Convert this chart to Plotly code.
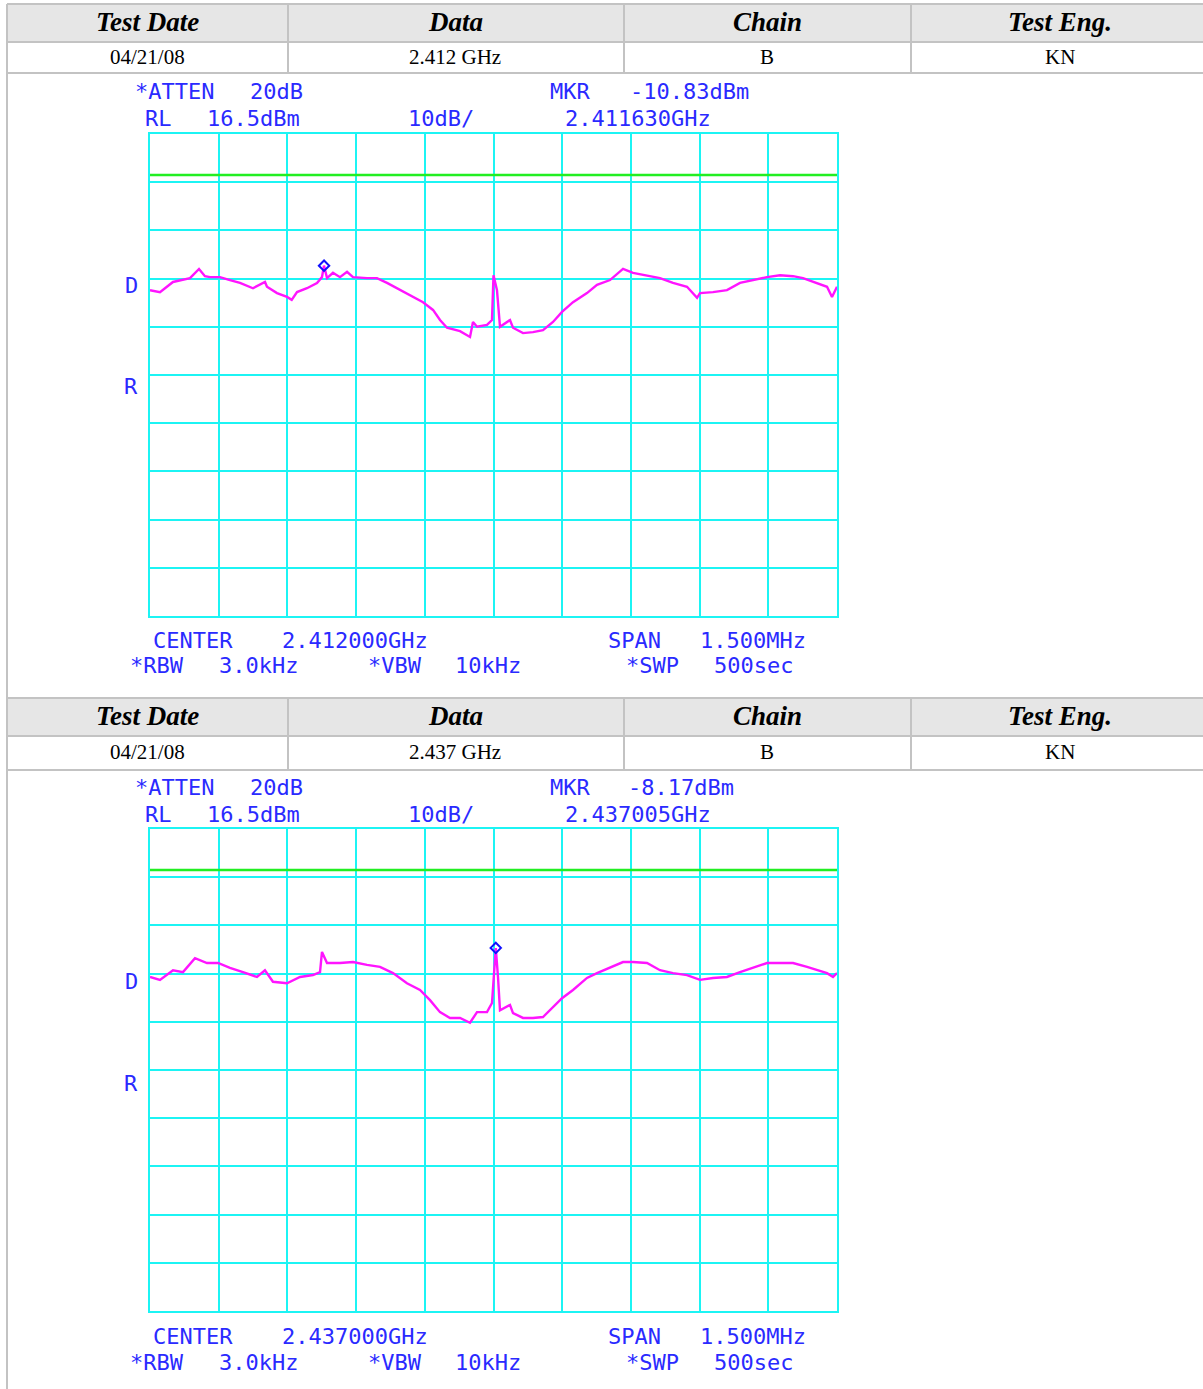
import plotly.graph_objects as go

W, H = 1203, 1389

# ---------------- data ----------------
header_labels = ["Test Date", "Data", "Chain", "Test Eng."]
row1_values = ["04/21/08", "2.412 GHz", "B", "KN"]
row2_values = ["04/21/08", "2.437 GHz", "B", "KN"]

# frequency offset from centre (kHz) and level (dBm)
freq1_khz = [-750.0, -728.2, -699.8, -662.7, -643.0, -630.0, -619.0, -597.2, -575.4, -553.5,
             -525.1, -498.9, -494.6, -472.7, -450.9, -440.6, -429.0, -407.2, -385.4, -374.5,
             -370.1, -363.5, -350.5, -335.2, -319.8, -306.8, -276.2, -254.4, -232.5, -204.1,
             -175.8, -153.9, -132.1, -116.8, -101.5, -73.1, -51.3, -44.8, -36.0, -14.2,
             -3.3, 0.0, 7.6, 14.2, 36.0, 42.6, 64.4, 86.2, 108.1, 129.9,
             149.6, 173.6, 204.1, 226.0, 254.4, 282.8, 304.6, 335.2, 363.5, 391.9,
             422.5, 444.4, 450.9, 479.2, 509.8, 538.2, 566.6, 597.2, 625.6, 654.0,
             675.8, 706.4, 728.2, 739.1, 750.0]
level1_dbm = [-15.9, -16.3, -14.2, -13.4, -11.5, -13.0, -13.2, -13.2, -13.8, -14.4,
              -15.5, -14.2, -15.2, -16.5, -17.3, -17.9, -16.3, -15.5, -14.4, -13.2,
              -10.8, -13.4, -12.3, -13.2, -12.1, -13.2, -13.4, -13.4, -14.4, -15.9,
              -17.3, -18.4, -20.0, -22.1, -23.7, -24.4, -25.6, -22.5, -23.5, -23.1,
              -22.1, -12.8, -15.9, -23.5, -22.1, -23.7, -24.8, -24.6, -24.2, -22.5,
              -20.4, -18.4, -16.5, -14.8, -13.8, -11.5, -12.3, -12.8, -13.4, -14.4,
              -15.2, -17.5, -16.5, -16.3, -15.9, -14.4, -13.8, -13.2, -12.8, -13.0,
              -13.4, -14.4, -15.2, -17.3, -15.2]

freq2_khz = [-750.0, -728.2, -699.8, -678.0, -651.8, -625.6, -601.5, -575.4, -547.0, -516.4,
             -499.0, -481.5, -450.9, -422.5, -394.1, -378.8, -374.5, -363.5, -335.2, -306.8,
             -276.2, -247.8, -219.4, -188.9, -160.5, -138.6, -116.8, -95.0, -73.1, -51.3,
             -36.0, -14.2, -3.3, 5.0, 9.8, 14.2, 36.0, 42.6, 64.4, 86.2,
             108.1, 129.9, 149.6, 173.6, 204.1, 226.0, 254.4, 282.8, 304.6, 335.2,
             363.5, 391.9, 422.5, 450.9, 479.2, 509.8, 538.2, 566.6, 597.2, 625.6,
             654.0, 684.6, 706.4, 728.2, 741.3, 750.0]
level2_dbm = [-14.2, -14.8, -12.8, -13.2, -10.3, -11.3, -11.3, -12.3, -13.2, -14.2,
              -12.8, -15.2, -15.5, -14.2, -13.8, -13.2, -9.0, -11.3, -11.3, -11.1,
              -11.7, -12.1, -13.4, -15.5, -16.9, -19.0, -21.5, -22.7, -22.7, -23.7,
              -21.5, -21.5, -19.6, -8.2, -14.2, -21.1, -20.0, -21.7, -22.7, -22.7,
              -22.5, -20.4, -18.6, -16.9, -14.4, -13.4, -12.3, -11.1, -11.1, -11.3,
              -12.8, -13.4, -13.8, -14.8, -14.4, -14.2, -13.2, -12.3, -11.3, -11.3,
              -11.3, -12.1, -12.8, -13.4, -14.2, -13.4]

marker1 = (-370.0, -10.83)
marker2 = (5.0, -8.17)
display_line_dbm = 8.0
ref_level = 16.5
span_khz = 1500.0

info1 = {"mkr": "-10.83dBm", "mkrf": "2.411630GHz", "center": "2.412000GHz"}
info2 = {"mkr": "-8.17dBm", "mkrf": "2.437005GHz", "center": "2.437000GHz"}

# ---------------- styling ----------------
CYAN = "#1cf4f4"
MAG = "#ff14ff"
BLUE = "#2a2aff"
GREEN = "#22ee22"
BORDER = "#c3c3c3"
HEADFILL = "#e6e6e6"
MONO = "DejaVu Sans Mono"
SERIF = "Liberation Serif"


def px(x):
    return x / W


def py(y):
    return 1 - y / H


fig = go.Figure()
shapes = []
annos = []


def table(top, mid, bottom, values):
    cols = [7, 288, 624, 911, 1203]
    centers = [147, 455, 767, 1060]
    shapes.append(dict(type="rect", xref="paper", yref="paper", x0=px(7), x1=px(1204),
                       y0=py(mid), y1=py(top), fillcolor=HEADFILL, line=dict(width=0), layer="below"))
    for yy in (top, mid, bottom):
        shapes.append(dict(type="line", xref="paper", yref="paper", x0=px(7), x1=px(1204),
                           y0=py(yy), y1=py(yy), line=dict(color=BORDER, width=2)))
    for xx in cols[:-1]:
        shapes.append(dict(type="line", xref="paper", yref="paper", x0=px(xx), x1=px(xx),
                           y0=py(top), y1=py(bottom), line=dict(color=BORDER, width=2)))
    for c, lab, val in zip(centers, header_labels, values):
        annos.append(dict(xref="paper", yref="paper", x=px(c), y=py((top + mid) / 2 - 1),
                          text=f"<b><i>{lab}</i></b>", showarrow=False, xanchor="center", yanchor="middle",
                          font=dict(family=SERIF, size=27, color="black")))
        annos.append(dict(xref="paper", yref="paper", x=px(c), y=py((mid + bottom) / 2 - 1),
                          text=val, showarrow=False, xanchor="center", yanchor="middle",
                          font=dict(family=SERIF, size=21, color="black")))


table(4, 42, 73, row1_values)
table(698, 736, 770, row2_values)
# left border of the page cells
shapes.append(dict(type="line", xref="paper", yref="paper", x0=px(7), x1=px(7),
                   y0=py(1389), y1=py(4), line=dict(color=BORDER, width=2)))


def text_block(dy, info):
    toks = [
        ("*ATTEN", 174, 91), ("20dB", 276.5, 91), ("MKR", 570, 91),
        (info["mkr"], 612 + len(info["mkr"]) * 8.6, 91),
        ("RL", 158, 118), ("16.5dBm", 253.5, 118), ("10dB/", 441, 118), (info["mkrf"], 637.5, 118),
        ("D", 131, 285), ("R", 131, 387),
        ("CENTER", 193, 640), (info["center"], 354.5, 640), ("SPAN", 634, 640), ("1.500MHz", 753, 640),
        ("*RBW", 157, 666), ("3.0kHz", 258, 666), ("*VBW", 395, 666), ("10kHz", 488, 666),
        ("*SWP", 652, 666), ("500sec", 753.5, 666),
    ]
    for t, x, y in toks:
        annos.append(dict(xref="paper", yref="paper", x=px(x), y=py(y + dy), text=t,
                          showarrow=False, xanchor="center", yanchor="middle",
                          font=dict(family=MONO, size=22, color=BLUE)))


text_block(0, info1)
text_block(696, info2)

panels = [
    (freq1_khz, level1_dbm, marker1, "x", "y"),
    (freq2_khz, level2_dbm, marker2, "x2", "y2"),
]
for f, lv, mk, xa, ya in panels:
    fig.add_trace(go.Scatter(x=[-span_khz / 2, span_khz / 2], y=[display_line_dbm, display_line_dbm],
                             mode="lines", line=dict(color=GREEN, width=2.5), xaxis=xa, yaxis=ya,
                             hoverinfo="skip", showlegend=False))
    fig.add_trace(go.Scatter(x=f, y=lv, mode="lines", line=dict(color=MAG, width=2.4),
                             xaxis=xa, yaxis=ya, showlegend=False))
    fig.add_trace(go.Scatter(x=[mk[0]], y=[mk[1]], mode="markers",
                             marker=dict(symbol="diamond-open", size=8, color="#1010ff", line=dict(width=2)),
                             xaxis=xa, yaxis=ya, showlegend=False))

xcommon = dict(range=[-span_khz / 2, span_khz / 2], tick0=-span_khz / 2, dtick=span_khz / 10,
               showgrid=True, gridcolor=CYAN, gridwidth=2, zeroline=False, showticklabels=False,
               ticks="", showline=True, linecolor=CYAN, linewidth=2, mirror=True, fixedrange=True)
ycommon = dict(range=[ref_level - 100, ref_level], tick0=ref_level, dtick=10,
               showgrid=True, gridcolor=CYAN, gridwidth=2, zeroline=False, showticklabels=False,
               ticks="", showline=True, linecolor=CYAN, linewidth=2, mirror=True, fixedrange=True)

fig.update_layout(
    width=W, height=H, autosize=False,
    margin=dict(l=0, r=0, t=0, b=0, pad=0),
    paper_bgcolor="white", plot_bgcolor="white",
    xaxis=dict(domain=[px(150), px(837)], anchor="y", **xcommon),
    yaxis=dict(domain=[py(616), py(134)], anchor="x", **ycommon),
    xaxis2=dict(domain=[px(150), px(837)], anchor="y2", **xcommon),
    yaxis2=dict(domain=[py(1311), py(829)], anchor="x2", **ycommon),
    shapes=shapes, annotations=annos, showlegend=False,
)

fig.write_html("out.html", config={"displayModeBar": False},
               post_script="document.body.style.margin='0';document.body.style.overflow='hidden';")
